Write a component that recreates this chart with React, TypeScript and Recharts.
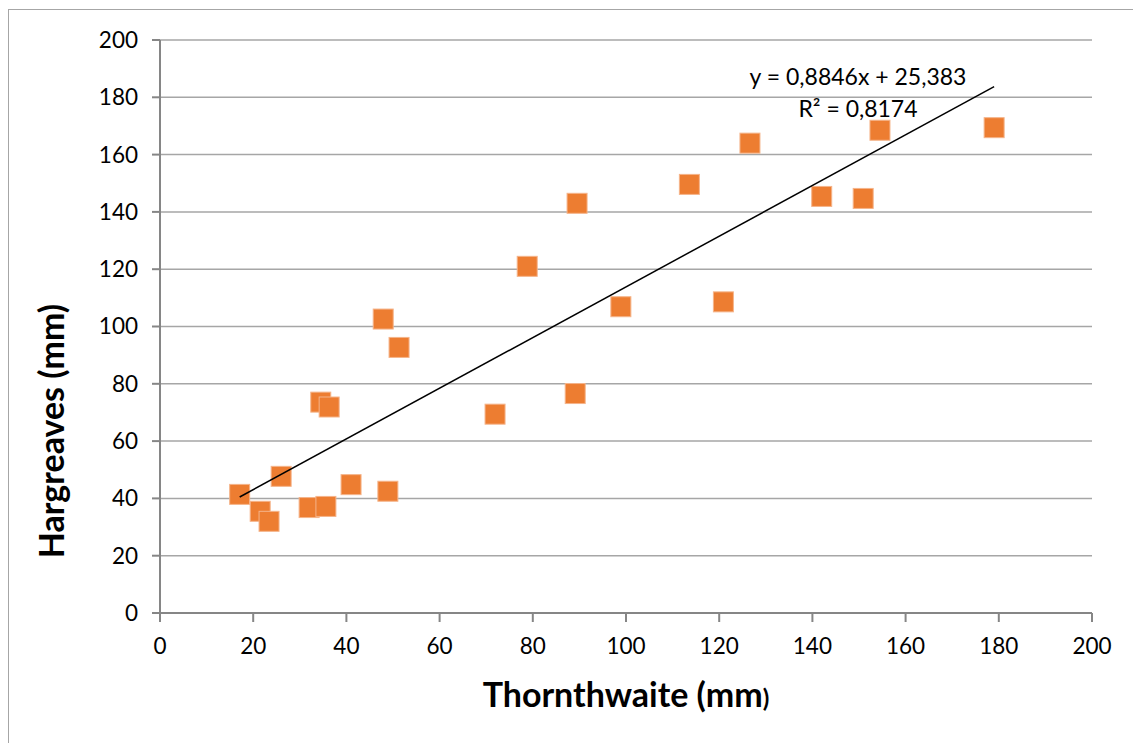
import { CartesianGrid, Scatter, ScatterChart, XAxis, YAxis } from "recharts"

const thornthwaite = [
  17.1, 21.5, 23.4, 26.0, 32.0, 35.6, 34.5, 36.3, 41.0, 47.9, 48.9, 51.3,
  71.9, 78.8, 89.1, 89.5, 98.9, 113.6, 120.9, 126.6, 142.0, 150.9, 154.5, 179.0,
]
const hargreaves = [
  41.4, 35.5, 32.0, 47.7, 36.8, 37.2, 73.6, 71.9, 44.8, 102.6, 42.5, 92.7,
  69.4, 121.0, 76.6, 143.0, 106.9, 149.6, 108.6, 164.0, 145.4, 144.7, 168.5, 169.4,
]
const trendX = [17.1, 179.0]
const trendY = [40.5, 183.7]
const ticks = [0, 20, 40, 60, 80, 100, 120, 140, 160, 180, 200]
const equation = "y = 0,8846x + 25,383"
const rSquared = "R² = 0,8174"

const points = thornthwaite.map((x, i) => ({ x, y: hargreaves[i] }))
const trend = trendX.map((x, i) => ({ x, y: trendY[i] }))

const font = "Lato, 'Open Sans', sans-serif"

const Square = (props: any) => {
  const { cx, cy } = props
  return (
    <rect
      x={cx - 10}
      y={cy - 10}
      width={20}
      height={20}
      fill="#ED7D31"
      stroke="#F5B48A"
      strokeWidth={1}
    />
  )
}

export default function App() {
  return (
    <div style={{ position: "absolute", left: 0, top: 0, width: 1133, height: 743, background: "#fff", fontFamily: font }}>
      <div
        style={{
          position: "absolute",
          left: 8,
          top: 9,
          width: 1140,
          height: 760,
          border: "1.5px solid #A6A6A6",
          boxSizing: "border-box",
        }}
      />
      <ScatterChart
        width={1133}
        height={743}
        margin={{ top: 40, right: 41, bottom: 0, left: 0 }}
        style={{ position: "absolute", left: 0, top: 0 }}
      >
        <CartesianGrid horizontal vertical={false} stroke="#A6A6A6" strokeWidth={1.5} />
        <XAxis
          type="number"
          dataKey="x"
          domain={[0, 200]}
          ticks={ticks}
          interval={0}
          allowDataOverflow
          stroke="#868686"
          strokeWidth={2}
          tickSize={9}
          tick={{ fill: "#000", fontSize: 22.5, fontFamily: font, dy: 14 }}
          height={130}
          label={() => (
            <text x={626} y={707} textAnchor="middle" fontFamily={font} fontWeight="bold" fontSize={34} fill="#000">
              <tspan>Thornthwaite (mm</tspan>
              <tspan fontSize={24}>)</tspan>
            </text>
          )}
        />
        <YAxis
          type="number"
          dataKey="y"
          domain={[0, 200]}
          ticks={ticks}
          interval={0}
          allowDataOverflow
          stroke="#868686"
          strokeWidth={2}
          tickSize={8}
          width={160}
          tick={{ fill: "#000", fontSize: 22.5, fontFamily: font, dx: -12 }}
          label={() => (
            <text
              x={64}
              y={431}
              transform="rotate(-90 64 431)"
              textAnchor="middle"
              fontFamily={font}
              fontWeight="bold"
              fontSize={34}
              fill="#000"
            >
              Hargreaves (mm)
            </text>
          )}
        />
        <Scatter data={points} shape={Square} isAnimationActive={false} />
        <Scatter
          data={trend}
          line={{ stroke: "#000", strokeWidth: 1.5 }}
          shape={() => null}
          isAnimationActive={false}
        />
      </ScatterChart>
      <div
        style={{
          position: "absolute",
          left: 700,
          top: 60,
          width: 316,
          textAlign: "center",
          fontSize: 23,
          lineHeight: "32px",
          color: "#000",
        }}
      >
        <div>{equation}</div>
        <div>{rSquared}</div>
      </div>
    </div>
  )
}
